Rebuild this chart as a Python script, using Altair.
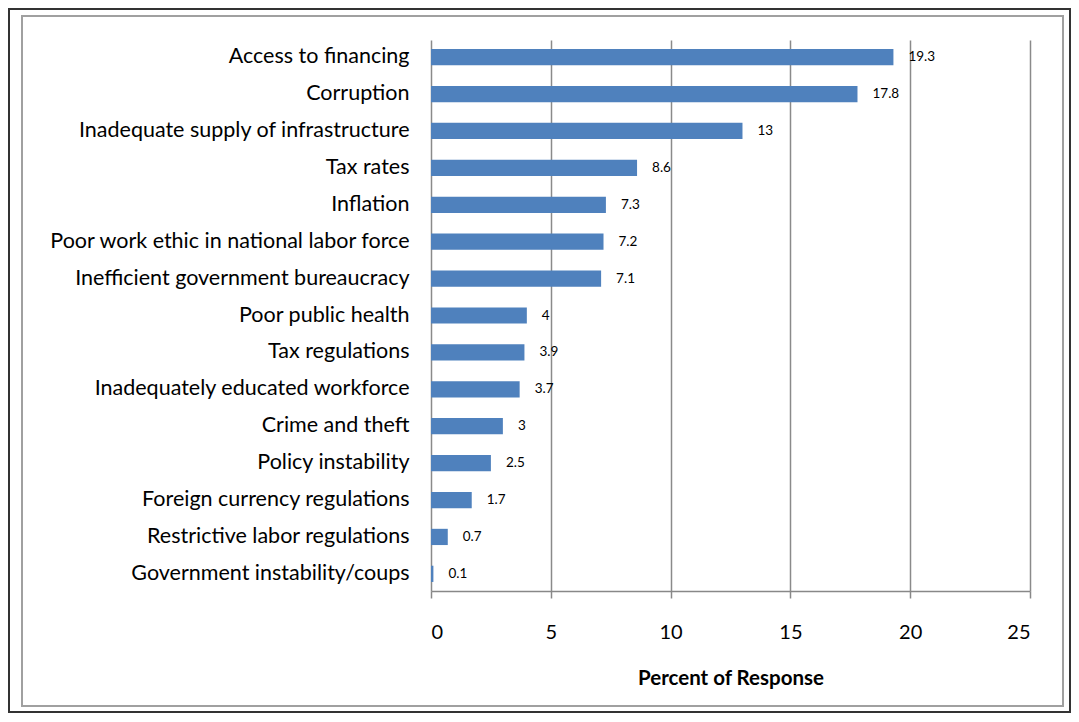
import altair as alt
import pandas as pd

categories = [
    "Access to financing",
    "Corruption",
    "Inadequate supply of infrastructure",
    "Tax rates",
    "Inflation",
    "Poor work ethic in national labor force",
    "Inefficient government bureaucracy",
    "Poor public health",
    "Tax regulations",
    "Inadequately educated workforce",
    "Crime and theft",
    "Policy instability",
    "Foreign currency regulations",
    "Restrictive labor regulations",
    "Government instability/coups",
]
values = [19.3, 17.8, 13, 8.6, 7.3, 7.2, 7.1, 4, 3.9, 3.7, 3, 2.5, 1.7, 0.7, 0.1]

df = pd.DataFrame({"category": categories, "value": values})

FONT = "Lato"
W, H = 599, 551

y_enc = alt.Y("category:N", sort=categories, title=None,
              scale=alt.Scale(paddingInner=0.56, paddingOuter=0.245),
              axis=alt.Axis(labelFontSize=21.5, labelFont=FONT, labelColor="#000",
                            ticks=False, domain=False, labelPadding=22, labelLimit=420))
x_enc = alt.X("value:Q", title="Percent of Response",
              scale=alt.Scale(domain=[0, 25], nice=False),
              axis=alt.Axis(values=[0, 5, 10, 15, 20, 25], format="d",
                            labelFontSize=20, labelFont=FONT, labelColor="#000",
                            labelPadding=24, tickSize=7, tickColor="#888",
                            tickWidth=1.5, domainColor="#888", domainWidth=1.5,
                            grid=True, gridColor="#8a8a8a", gridWidth=1.5,
                            titleFont=FONT, titleFontSize=20.5, titleFontWeight="bold",
                            titleColor="#000", titlePadding=26))

bars = alt.Chart(df).mark_bar(color="#4F81BD").encode(x=x_enc, y=y_enc)

labels = alt.Chart(df).mark_text(align="left", baseline="middle", dx=15,
                                 fontSize=13.5, font=FONT, color="#000").encode(
    x="value:Q", y=alt.Y("category:N", sort=categories), text="value:Q")

outer = alt.Chart(df).mark_rect(fill=None, stroke="#333", strokeWidth=2).encode(
    x=alt.value(-422), x2=alt.value(639), y=alt.value(-31), y2=alt.value(672))
inner = alt.Chart(df).mark_rect(fill=None, stroke="#a0a0a0", strokeWidth=2).encode(
    x=alt.value(-409), x2=alt.value(632), y=alt.value(-24), y2=alt.value(666))

chart = alt.layer(outer, inner, bars, labels).properties(
    width=W, height=H,
    autosize=alt.AutoSizeParams(type="none"),
    padding={"left": 423, "top": 32, "right": 41, "bottom": 123},
    background="white",
).configure_view(stroke=None)

chart.save("out.html", embed_options={"renderer": "svg", "actions": False})
